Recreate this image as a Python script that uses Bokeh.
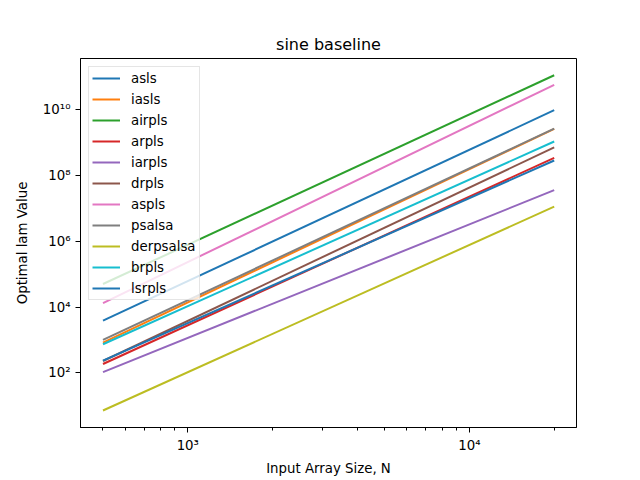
from bokeh.plotting import figure
from bokeh.models import Range1d, FixedTicker, CustomJSTickFormatter
from bokeh.embed import file_html
from bokeh.resources import INLINE

# ---- data ----
N = [500, 20000]
methods = ["asls", "iasls", "airpls", "arpls", "iarpls", "drpls",
           "aspls", "psalsa", "derpsalsa", "brpls", "lsrpls"]
asls = [3.85e3, 9.55e9]
iasls = [8.3e2, 2.57e9]
airpls = [5.0e4, 1.10e11]
arpls = [1.86e2, 3.39e8]
iarpls = [1.05e2, 3.55e7]
drpls = [2.29e2, 7.08e8]
aspls = [1.32e4, 5.62e10]
psalsa = [1.0e3, 2.63e9]
derpsalsa = [7.2, 1.12e7]
brpls = [7.41e2, 1.07e9]
lsrpls = [2.34e2, 2.82e8]
series = [asls, iasls, airpls, arpls, iarpls, drpls,
          aspls, psalsa, derpsalsa, brpls, lsrpls]

x_major = [1000, 10000]
x_minor = [500, 600, 700, 800, 900, 2000, 3000, 4000, 5000, 6000, 7000, 8000, 9000, 20000]
y_major = [1e2, 1e4, 1e6, 1e8, 1e10]

colors = ["#1f77b4", "#ff7f0e", "#2ca02c", "#d62728", "#9467bd", "#8c564b",
          "#e377c2", "#7f7f7f", "#bcbd22", "#17becf", "#1f77b4"]

FONT = "DejaVu Sans"

p = figure(width=640, height=480, x_axis_type="log", y_axis_type="log",
           x_range=Range1d(416, 24000), y_range=Range1d(10**0.34, 10**11.55),
           output_backend="svg", toolbar_location=None,
           title="sine baseline",
           x_axis_label="Input Array Size, N", y_axis_label="Optimal lam Value",
           min_border_left=80, min_border_right=64, min_border_top=58, min_border_bottom=53)

for name, vals, c in zip(methods, series, colors):
    p.line(N, vals, line_color=c, line_width=2, legend_label=name)

p.xgrid.visible = False
p.ygrid.visible = False
p.outline_line_color = "black"
p.outline_line_width = 1
p.background_fill_color = "white"
p.border_fill_color = "white"

fmt_code = """
const sup = {"0":"\u2070","1":"\u00b9","2":"\u00b2","3":"\u00b3","4":"\u2074","5":"\u2075","6":"\u2076","7":"\u2077","8":"\u2078","9":"\u2079","-":"\u207b"};
const e = Math.round(Math.log10(tick));
return "10" + String(e).split("").map(c => sup[c]).join("");
"""

p.xaxis.ticker = FixedTicker(ticks=x_major, minor_ticks=x_minor)
p.yaxis.ticker = FixedTicker(ticks=y_major, minor_ticks=[])
for ax in (p.xaxis[0], p.yaxis[0]):
    ax.formatter = CustomJSTickFormatter(code=fmt_code)
    ax.axis_line_color = "black"
    ax.major_tick_line_color = "black"
    ax.minor_tick_line_color = "black"
    ax.major_tick_in = 0
    ax.major_tick_out = 5
    ax.minor_tick_in = 0
    ax.minor_tick_out = 3
    ax.major_label_text_font = FONT
    ax.major_label_text_font_size = "13.33px"
    ax.major_label_text_color = "black"
    ax.major_label_standoff = 5
    ax.axis_label_text_font = FONT
    ax.axis_label_text_font_size = "13.33px"
    ax.axis_label_text_font_style = "normal"
    ax.axis_label_text_color = "black"
    ax.axis_label_standoff = 6
p.yaxis[0].axis_label_standoff = 10
p.xaxis[0].axis_label_standoff = 5

p.title.text_font = FONT
p.title.text_font_size = "16px"
p.title.text_font_style = "normal"
p.title.align = "center"
p.title.text_color = "black"

lg = p.legend[0]
lg.location = "top_left"
lg.margin = 8
lg.padding = 3
lg.spacing = 5
lg.label_height = 16
lg.glyph_height = 16
lg.glyph_width = 28
lg.label_standoff = 11
lg.label_text_font = FONT
lg.label_text_font_size = "13.33px"
lg.label_text_color = "black"
lg.border_line_color = "#cccccc"
lg.background_fill_alpha = 0.8

open("out.html", "w").write(file_html(p, INLINE))
